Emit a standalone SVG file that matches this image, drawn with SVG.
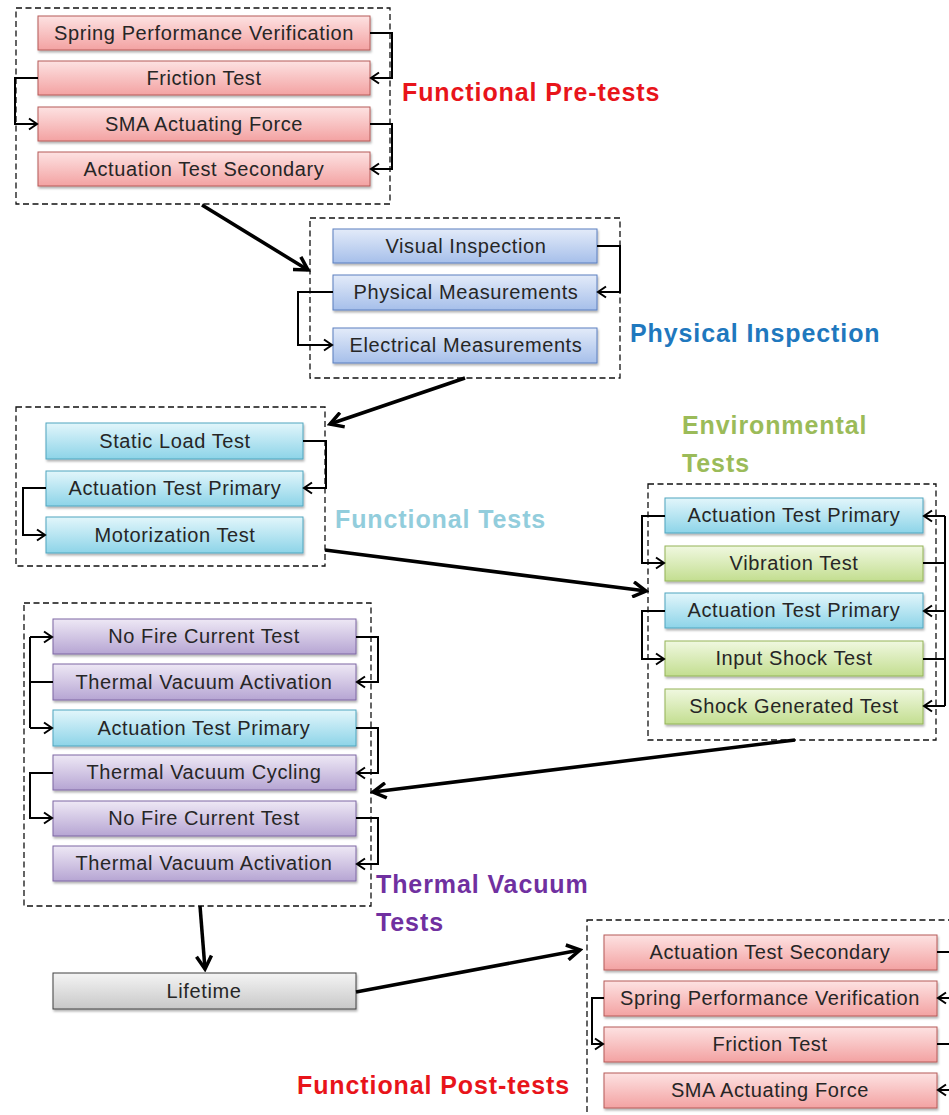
<svg xmlns="http://www.w3.org/2000/svg" width="949" height="1115" viewBox="0 0 949 1115">
<style>
.grp{fill:none;stroke:#111;stroke-width:1.3;stroke-dasharray:6 3.5}
.n rect{stroke-width:1;filter:url(#sh)}
.n text{font-family:"Liberation Sans",Arial,sans-serif;font-size:20px;letter-spacing:0.6px;fill:#262626;text-anchor:middle}
.red{fill:url(#gRed);stroke:#b65a58}
.blu{fill:url(#gBlu);stroke:#5a7fbf}
.cya{fill:url(#gCya);stroke:#4fa6bf}
.grn{fill:url(#gGrn);stroke:#93b457}
.pur{fill:url(#gPur);stroke:#7d67a3}
.gry{fill:url(#gGry);stroke:#404040}
.c{fill:none;stroke:#000;stroke-width:2}
.ca{fill:none;stroke:#000;stroke-width:2;marker-end:url(#ah)}
.big{fill:none;stroke:#000;stroke-width:3.5;marker-end:url(#bh)}
.lbl{font-family:"Liberation Sans",Arial,sans-serif;font-size:25px;font-weight:bold;letter-spacing:0.9px}
</style>
<defs>
<linearGradient id="gRed" x1="0" y1="0" x2="0" y2="1"><stop offset="0" stop-color="#fde2e2"/><stop offset="1" stop-color="#f3a2a2"/></linearGradient>
<linearGradient id="gBlu" x1="0" y1="0" x2="0" y2="1"><stop offset="0" stop-color="#e3ebf9"/><stop offset="1" stop-color="#a6bfea"/></linearGradient>
<linearGradient id="gCya" x1="0" y1="0" x2="0" y2="1"><stop offset="0" stop-color="#e2f6fb"/><stop offset="1" stop-color="#8dd4e8"/></linearGradient>
<linearGradient id="gGrn" x1="0" y1="0" x2="0" y2="1"><stop offset="0" stop-color="#f0f8e0"/><stop offset="1" stop-color="#c3de90"/></linearGradient>
<linearGradient id="gPur" x1="0" y1="0" x2="0" y2="1"><stop offset="0" stop-color="#eee8f5"/><stop offset="1" stop-color="#b6a5d3"/></linearGradient>
<linearGradient id="gGry" x1="0" y1="0" x2="0" y2="1"><stop offset="0" stop-color="#f4f4f4"/><stop offset="1" stop-color="#c8c8c8"/></linearGradient>
<filter id="sh" x="-5%" y="-20%" width="110%" height="150%"><feDropShadow dx="1" dy="2" stdDeviation="1.2" flood-color="#000" flood-opacity="0.3"/></filter>
<marker id="ah" markerUnits="userSpaceOnUse" markerWidth="13" markerHeight="14" refX="10" refY="7" orient="auto"><path d="M2,1.5 L10,7 L2,12.5" fill="none" stroke="#000" stroke-width="2"/></marker>
<marker id="bh" markerUnits="userSpaceOnUse" markerWidth="18" markerHeight="18" refX="15" refY="9" orient="auto"><path d="M2,1.5 L15,9 L2,16.5" fill="none" stroke="#000" stroke-width="3.5"/></marker>
</defs>

<g id="groups">
<rect class="grp" x="16" y="8" width="374" height="196"/>
<rect class="grp" x="310" y="218" width="310" height="160"/>
<rect class="grp" x="16" y="407" width="309" height="159"/>
<rect class="grp" x="648" y="484" width="288" height="256"/>
<rect class="grp" x="24" y="603" width="347" height="303"/>
<rect class="grp" x="587" y="920" width="380" height="210"/>
</g>

<g id="labels">
<text class="lbl" x="402" y="101" fill="#e8141a">Functional Pre-tests</text>
<text class="lbl" x="630" y="342" fill="#1f78be">Physical Inspection</text>
<text class="lbl" x="335" y="528" fill="#92cddc">Functional Tests</text>
<text class="lbl" x="682" y="434" fill="#9bbb59">Environmental</text>
<text class="lbl" x="682" y="472" fill="#9bbb59">Tests</text>
<text class="lbl" x="376" y="893" fill="#7030a0">Thermal Vacuum</text>
<text class="lbl" x="376" y="931" fill="#7030a0">Tests</text>
<text class="lbl" x="297" y="1094" fill="#e8141a">Functional Post-tests</text>
</g>

<g id="pre1" class="n"><rect class="red" x="38" y="16" width="332" height="34"/><text x="204" y="40">Spring Performance Verification</text></g>
<g id="pre2" class="n"><rect class="red" x="38" y="61" width="332" height="34"/><text x="204" y="85">Friction Test</text></g>
<g id="pre3" class="n"><rect class="red" x="38" y="107" width="332" height="34"/><text x="204" y="131">SMA Actuating Force</text></g>
<g id="pre4" class="n"><rect class="red" x="38" y="152" width="332" height="34"/><text x="204" y="176">Actuation Test Secondary</text></g>

<g id="phy1" class="n"><rect class="blu" x="333" y="229" width="264" height="34"/><text x="466" y="253">Visual Inspection</text></g>
<g id="phy2" class="n"><rect class="blu" x="333" y="275" width="264" height="35"/><text x="466" y="299">Physical Measurements</text></g>
<g id="phy3" class="n"><rect class="blu" x="333" y="328" width="264" height="35"/><text x="466" y="352">Electrical Measurements</text></g>

<g id="fun1" class="n"><rect class="cya" x="46" y="423" width="257" height="36"/><text x="175" y="448">Static Load Test</text></g>
<g id="fun2" class="n"><rect class="cya" x="46" y="471" width="257" height="35"/><text x="175" y="495">Actuation Test Primary</text></g>
<g id="fun3" class="n"><rect class="cya" x="46" y="517" width="257" height="36"/><text x="175" y="542">Motorization Test</text></g>

<g id="env1" class="n"><rect class="cya" x="665" y="498" width="258" height="35"/><text x="794" y="522">Actuation Test Primary</text></g>
<g id="env2" class="n"><rect class="grn" x="665" y="546" width="258" height="35"/><text x="794" y="570">Vibration Test</text></g>
<g id="env3" class="n"><rect class="cya" x="665" y="593" width="258" height="35"/><text x="794" y="617">Actuation Test Primary</text></g>
<g id="env4" class="n"><rect class="grn" x="665" y="641" width="258" height="35"/><text x="794" y="665">Input Shock Test</text></g>
<g id="env5" class="n"><rect class="grn" x="665" y="689" width="258" height="35"/><text x="794" y="713">Shock Generated Test</text></g>

<g id="tv1" class="n"><rect class="pur" x="53" y="619" width="303" height="35"/><text x="204" y="643">No Fire Current Test</text></g>
<g id="tv2" class="n"><rect class="pur" x="53" y="664" width="303" height="36"/><text x="204" y="689">Thermal Vacuum Activation</text></g>
<g id="tv3" class="n"><rect class="cya" x="53" y="710" width="303" height="36"/><text x="204" y="735">Actuation Test Primary</text></g>
<g id="tv4" class="n"><rect class="pur" x="53" y="755" width="303" height="35"/><text x="204" y="779">Thermal Vacuum Cycling</text></g>
<g id="tv5" class="n"><rect class="pur" x="53" y="801" width="303" height="35"/><text x="204" y="825">No Fire Current Test</text></g>
<g id="tv6" class="n"><rect class="pur" x="53" y="846" width="303" height="35"/><text x="204" y="870">Thermal Vacuum Activation</text></g>

<g id="life" class="n"><rect class="gry" x="53" y="973" width="303" height="36"/><text x="204" y="998">Lifetime</text></g>

<g id="post1" class="n"><rect class="red" x="604" y="935" width="333" height="35"/><text x="770" y="959">Actuation Test Secondary</text></g>
<g id="post2" class="n"><rect class="red" x="604" y="981" width="333" height="35"/><text x="770" y="1005">Spring Performance Verification</text></g>
<g id="post3" class="n"><rect class="red" x="604" y="1027" width="333" height="35"/><text x="770" y="1051">Friction Test</text></g>
<g id="post4" class="n"><rect class="red" x="604" y="1073" width="333" height="35"/><text x="770" y="1097">SMA Actuating Force</text></g>

<g id="connectors">
<path class="ca" d="M370,33 H392 V78 H371"/>
<path class="ca" d="M38,78 H15 V124 H37"/>
<path class="ca" d="M370,124 H392 V169 H371"/>

<path class="ca" d="M597,246 H620 V292 H598"/>
<path class="ca" d="M333,292 H298 V345 H332"/>

<path class="ca" d="M303,441 H326 V488 H304"/>
<path class="ca" d="M46,488 H23 V535 H45"/>

<path class="ca" d="M665,516 H642 V563 H664"/>
<path class="ca" d="M665,611 H642 V659 H664"/>
<path class="c" d="M923,563 H945 M923,659 H945 M945,516 V706"/>
<path class="ca" d="M945,516 H924"/>
<path class="ca" d="M945,611 H924"/>
<path class="ca" d="M945,706 H924"/>

<path class="c" d="M53,682 H30 M30,637 V728"/>
<path class="ca" d="M30,637 H52"/>
<path class="ca" d="M30,728 H52"/>
<path class="ca" d="M356,637 H378 V682 H357"/>
<path class="ca" d="M356,728 H378 V773 H357"/>
<path class="ca" d="M53,773 H30 V818 H52"/>
<path class="ca" d="M356,818 H378 V864 H357"/>

<path class="c" d="M937,952 H955 M937,1044 H955 M955,952 V1120"/>
<path class="ca" d="M955,998 H938"/>
<path class="ca" d="M955,1090 H938"/>
<path class="ca" d="M604,998 H592 V1044 H603"/>

<path class="big" d="M202,205 L308,270"/>
<path class="big" d="M465,378 L330,424"/>
<path class="big" d="M325,550 L646,591"/>
<path class="big" d="M795,740 L373,792"/>
<path class="big" d="M200,906 L205,969"/>
<path class="big" d="M356,992 L580,950"/>
</g>
</svg>
